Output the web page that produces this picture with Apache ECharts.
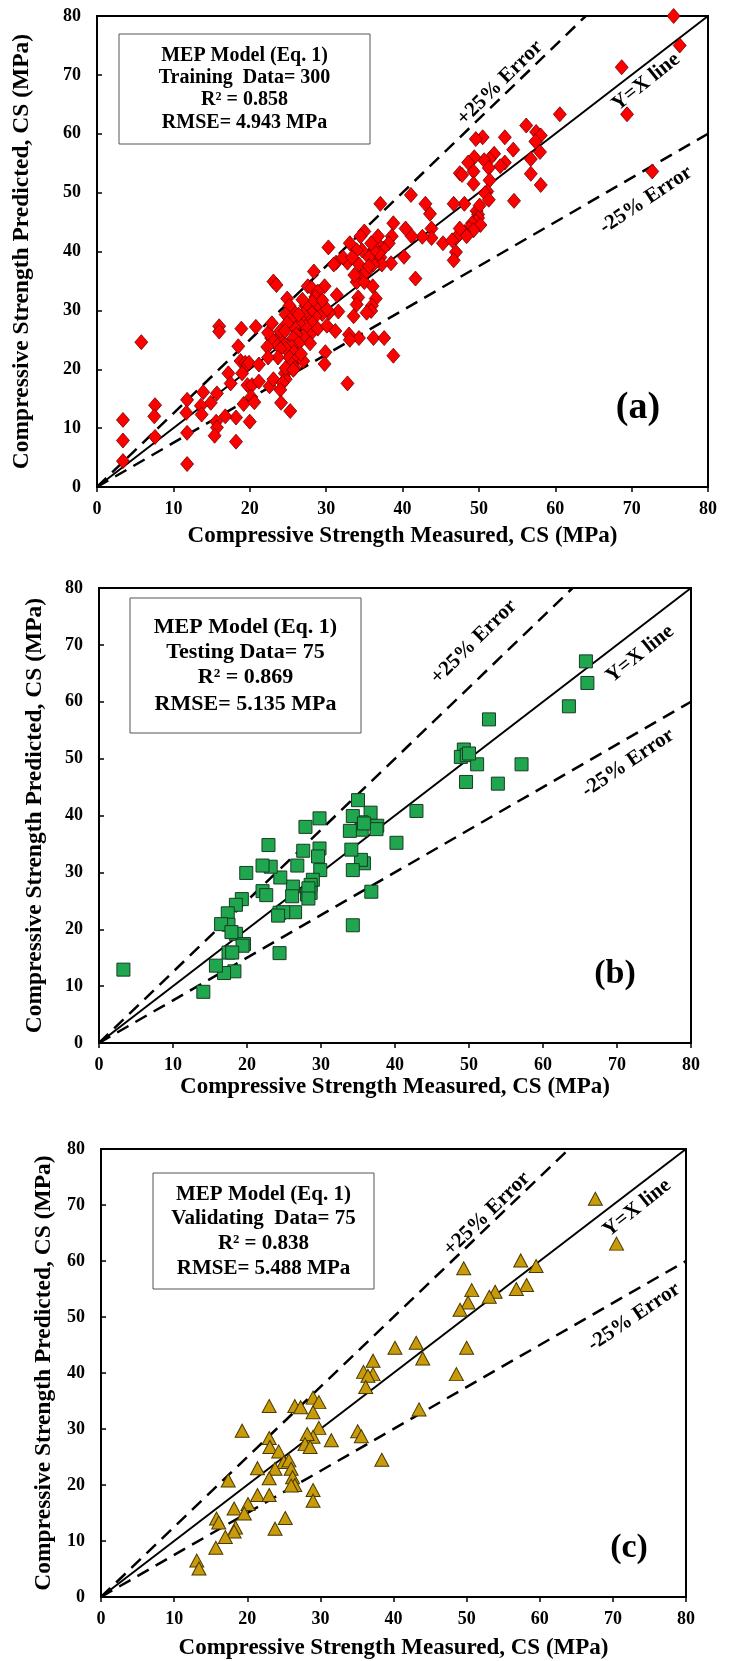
<!DOCTYPE html>
<html lang="en">
<head>
    <meta charset="UTF-8">
    <title>MEP Model CS</title>
    <script src="https://cdn.jsdelivr.net/npm/echarts@6/dist/echarts.min.js"></script>
    <style>
        html, body { margin: 0; padding: 0; background: #fff; }
    </style>
</head>
<body>
    <div style="height: 1661px;width: 731px" id="myChart"></div>
    <script type="text/javascript">
        // measured / predicted pairs
        var trainData = [
            [75.5,80.0],[76.3,75.0],[68.7,71.3],[69.4,63.3],[72.7,53.6],[60.6,63.3],[56.2,61.4],[57.5,60.3],
            [58.1,59.7],[57.4,58.7],[58.0,56.9],[58.1,51.3],[56.8,55.7],[56.8,53.2],[53.4,59.4],[54.5,57.3],
            [54.6,48.6],[53.4,55.1],[52.8,54.5],[52.0,56.6],[51.4,55.7],[50.7,55.5],[51.3,54.2],[51.4,52.1],
            [51.1,50.2],[50.8,49.9],[51.3,48.8],[50.5,59.4],[49.6,59.1],[49.4,56.0],[49.3,53.6],[49.3,51.5],
            [48.6,55.1],[47.5,53.3],[47.8,53.0],[48.1,48.1],[46.7,48.1],[49.7,46.9],[49.9,46.3],[50.1,47.8],
            [49.9,45.7],[49.6,45.1],[49.1,44.8],[50.2,44.5],[48.7,43.9],[49.3,43.6],[48.1,43.3],[47.5,43.0],
            [48.4,42.6],[47.0,42.3],[47.5,43.9],[47.0,39.9],[46.7,38.5],[45.3,41.4],[43.6,46.4],[43.0,48.1],
            [43.8,43.9],[43.8,42.3],[42.6,42.5],[41.1,49.6],[41.2,42.6],[40.4,43.9],[40.2,39.1],[41.7,35.4],
            [38.8,44.8],[38.6,42.6],[38.2,41.4],[38.5,38.0],[37.1,48.1],[37.5,40.5],[37.1,39.0],[36.7,41.4],
            [37.3,37.8],[36.9,39.7],[36.2,40.2],[36.2,37.8],[35.9,41.4],[35.6,39.0],[35.0,43.4],[34.5,42.6],
            [34.7,40.2],[34.0,40.2],[34.3,37.8],[34.5,35.7],[34.0,34.8],[35.0,34.8],[33.1,41.4],[32.8,38.1],
            [31.3,38.1],[31.0,37.8],[32.2,39.0],[30.3,40.7],[36.1,34.1],[36.5,32.0],[36.0,30.8],[35.9,29.9],
            [35.3,29.6],[34.2,32.2],[34.0,31.0],[33.6,29.0],[36.2,25.3],[37.6,25.3],[34.3,25.3],[33.0,25.9],
            [33.1,25.0],[38.8,22.3],[32.8,17.6],[31.2,26.5],[31.4,32.6],[31.6,29.8],[30.4,29.6],[29.8,34.1],
            [29.9,22.9],[29.8,20.9],[28.4,36.6],[27.6,34.1],[28.1,33.8],[28.9,33.2],[28.6,32.3],[28.2,31.4],
            [29.2,30.5],[29.5,29.4],[28.6,29.0],[27.9,29.9],[27.3,30.8],[27.6,28.4],[27.0,29.3],[26.7,28.4],
            [28.2,27.8],[28.9,26.9],[27.9,25.9],[27.9,24.4],[27.3,27.2],[27.0,25.6],[26.4,27.8],[25.8,27.2],
            [26.9,31.8],[25.5,30.2],[24.9,32.0],[25.2,30.8],[24.7,29.3],[25.3,28.4],[24.9,27.8],[26.1,25.9],
            [25.7,25.3],[26.4,24.4],[25.5,23.8],[24.3,24.7],[24.7,23.5],[25.8,22.9],[25.2,22.0],[26.1,21.7],
            [25.5,20.8],[25.9,20.2],[27.0,21.4],[23.9,25.6],[23.4,24.4],[24.0,23.5],[23.7,22.0],[23.2,24.7],
            [22.8,25.3],[22.4,26.2],[22.9,27.8],[22.3,23.8],[22.4,22.0],[23.1,34.9],[23.5,34.3],[20.8,27.2],
            [18.9,26.9],[18.5,23.9],[18.8,21.4],[19.4,21.1],[19.7,20.8],[19.0,19.3],[19.7,17.3],[19.2,14.1],
            [19.9,21.1],[21.2,20.8],[20.3,17.3],[21.2,17.9],[22.6,17.1],[23.1,18.3],[24.6,19.3],[24.7,18.3],
            [24.3,17.7],[24.0,16.5],[24.1,14.3],[25.3,12.9],[20.2,15.3],[20.6,14.4],[20.0,11.1],[18.2,11.8],
            [18.2,7.7],[17.2,19.3],[17.5,17.6],[16.8,12.0],[15.7,15.9],[15.6,11.1],[15.7,10.1],[15.4,8.7],
            [16.0,27.3],[16.0,26.4],[14.9,14.3],[13.9,16.1],[13.6,13.8],[13.7,12.3],[11.8,14.8],[11.7,12.6],
            [11.8,9.2],[11.8,3.9],[7.6,13.9],[7.5,12.0],[7.6,8.5],[3.4,11.4],[3.4,7.9],[3.4,4.4],
            [5.8,24.6],[46.5,41.9],[24.0,26.5],[24.6,26.5],[26.4,29.3],[30.1,27.4],[26.7,22.6],[24.7,20.2],
            [25.7,19.9],[30.1,30.2],[29.5,31.7],[33.7,36.0],[35.3,36.6],[35.6,37.5],[33.4,39.0],[36.8,42.6]
        ];
        var testData = [
            [65.8,67.1],[66.0,63.3],[63.5,59.2],[52.7,56.9],[49.3,51.6],[48.9,50.3],[49.7,50.6],[51.1,49.0],
            [57.1,49.0],[49.6,45.9],[53.9,45.6],[42.9,40.8],[40.2,35.2],[37.6,38.2],[37.5,37.6],[36.7,40.5],
            [35.8,31.6],[35.5,38.8],[35.5,37.5],[35.4,32.2],[35.0,42.7],[34.3,39.9],[33.9,37.3],[34.1,34.0],
            [34.3,30.4],[34.3,20.7],[36.8,26.6],[29.8,39.5],[29.8,34.2],[29.6,32.8],[29.9,30.4],[28.9,28.7],
            [28.6,27.8],[28.6,26.4],[28.1,26.1],[28.3,27.2],[27.9,38.0],[27.6,33.8],[26.8,31.2],[26.2,27.5],
            [26.1,25.8],[26.5,23.0],[24.5,29.1],[24.4,22.9],[24.9,23.0],[24.4,15.8],[22.9,34.8],[23.2,31.0],
            [22.1,31.2],[22.1,26.7],[22.6,26.0],[19.9,29.9],[19.3,25.3],[18.5,24.3],[18.5,19.2],[19.6,17.4],
            [19.4,17.1],[17.4,22.8],[17.5,20.8],[16.5,20.9],[17.5,15.9],[18.0,15.9],[18.3,12.6],[16.9,12.3],
            [15.8,13.6],[14.1,9.0],[3.3,12.9],[24.2,22.4],[35.8,38.6],[50.0,50.9],[28.3,25.4],[17.9,19.5]
        ];
        var validData = [
            [67.6,71.1],[70.5,63.1],[57.4,60.1],[59.5,59.1],[49.6,58.7],[58.2,55.7],[56.8,55.0],[53.9,54.5],
            [53.1,53.6],[50.7,54.8],[50.2,52.6],[49.1,51.3],[50.0,44.5],[43.1,45.4],[40.2,44.5],[44.0,42.6],
            [37.2,42.2],[35.9,40.2],[37.2,39.8],[36.5,39.5],[48.6,39.8],[36.2,37.5],[43.5,33.5],[29.0,35.6],
            [29.8,34.8],[26.5,34.1],[27.3,33.9],[23.0,34.1],[29.0,33.0],[29.8,30.2],[19.3,29.7],[35.1,29.6],
            [35.6,28.7],[31.5,28.0],[29.0,28.6],[28.2,29.1],[23.0,28.4],[23.1,26.8],[27.9,27.3],[28.6,26.8],
            [24.3,26.0],[38.4,24.5],[25.0,24.1],[25.7,24.4],[23.8,22.9],[26.0,22.9],[21.4,23.0],[23.0,21.2],
            [26.2,21.4],[26.5,20.0],[26.0,19.9],[17.4,20.8],[29.0,19.1],[29.0,17.2],[21.4,18.2],[23.0,18.2],
            [20.1,16.6],[18.2,15.8],[19.6,14.9],[15.8,14.0],[16.1,13.3],[25.2,14.1],[18.4,12.4],[18.2,11.7],
            [23.8,12.2],[17.0,10.7],[15.7,8.8],[13.1,6.5],[13.4,5.1]
        ];
        var lineYX = [[0, 0], [80, 80]];
        var linePlus25 = [[0, 0], [64, 80]];
        var lineMinus25 = [[0, 0], [80, 60]];
        var axisTicks = [0, 10, 20, 30, 40, 50, 60, 70, 80];

        var SERIF = '"Liberation Serif", "Times New Roman", serif';

        var grids = [
            {left: 97, top: 16, width: 611, height: 471},
            {left: 99, top: 588, width: 592, height: 455},
            {left: 101, top: 1149, width: 585, height: 451}
        ];
        var xNameGap = [38, 33, 40];
        var yNameGap = [63, 52, 45];

        function makeX(i) {
            return {
                gridIndex: i, type: 'value', min: axisTicks[0], max: axisTicks[axisTicks.length - 1], interval: 10,
                axisLine: {show: true, onZero: false, lineStyle: {color: '#000', width: 2}},
                axisTick: {show: true, inside: false, length: 5, lineStyle: {color: '#000', width: 1.5}},
                splitLine: {show: false},
                axisLabel: {color: '#000', fontFamily: SERIF, fontWeight: 'bold', fontSize: 18, margin: 13},
                name: 'Compressive Strength Measured, CS (MPa)',
                nameLocation: 'middle', nameGap: xNameGap[i],
                nameTextStyle: {color: '#000', fontFamily: SERIF, fontWeight: 'bold', fontSize: 23}
            };
        }
        function makeY(i) {
            return {
                gridIndex: i, type: 'value', min: axisTicks[0], max: axisTicks[axisTicks.length - 1], interval: 10,
                axisLine: {show: true, onZero: false, lineStyle: {color: '#000', width: 2}},
                axisTick: {show: true, inside: true, length: 5, lineStyle: {color: '#000', width: 1.5}},
                splitLine: {show: false},
                axisLabel: {color: '#000', fontFamily: SERIF, fontWeight: 'bold', fontSize: 18, margin: 16},
                name: 'Compressive Strength Predicted, CS (MPa)',
                nameLocation: 'middle', nameGap: yNameGap[i],
                nameTextStyle: {color: '#000', fontFamily: SERIF, fontWeight: 'bold', fontSize: 23.5}
            };
        }
        function refLines(i) {
            return [
                {type: 'line', xAxisIndex: i, yAxisIndex: i, data: lineYX, symbol: 'none', silent: true,
                    lineStyle: {color: '#000', width: 2}, z: 3},
                {type: 'line', xAxisIndex: i, yAxisIndex: i, data: linePlus25, symbol: 'none', silent: true,
                    lineStyle: {color: '#000', width: 2.5, type: [13, 8]}, z: 3},
                {type: 'line', xAxisIndex: i, yAxisIndex: i, data: lineMinus25, symbol: 'none', silent: true,
                    lineStyle: {color: '#000', width: 2.5, type: [13, 8]}, z: 3}
            ];
        }

        var series = [];
        series = series.concat(refLines(0), refLines(1), refLines(2));
        series.push({type: 'scatter', xAxisIndex: 0, yAxisIndex: 0, data: trainData, symbol: 'diamond',
            symbolSize: [13, 15], itemStyle: {color: '#ff0000', borderColor: '#6b0000', borderWidth: 0.8, opacity: 1}, z: 4});
        series.push({type: 'scatter', xAxisIndex: 1, yAxisIndex: 1, data: testData, symbol: 'rect',
            symbolSize: 13, itemStyle: {color: '#1fa64f', borderColor: '#173d22', borderWidth: 1, opacity: 1}, z: 4});
        series.push({type: 'scatter', xAxisIndex: 2, yAxisIndex: 2, data: validData, symbol: 'triangle',
            symbolSize: [14, 13], itemStyle: {color: '#c99b0a', borderColor: '#4a3a00', borderWidth: 1, opacity: 1}, z: 4});

        // text boxes and labels
        function boxText(cx, ys, lines, size) {
            var out = [];
            for (var k = 0; k < lines.length; k++) {
                out.push({type: 'text', x: cx, y: ys[k], z: 10,
                    style: {text: lines[k], font: 'bold ' + size + 'px ' + SERIF, fill: '#000',
                        textAlign: 'center', textVerticalAlign: 'middle'}});
            }
            return out;
        }
        function rotText(x, y, deg, txt, size) {
            return {type: 'text', x: x, y: y, rotation: deg * Math.PI / 180, z: 10,
                style: {text: txt, font: 'bold ' + size + 'px ' + SERIF, fill: '#000',
                    textAlign: 'center', textVerticalAlign: 'middle'}};
        }
        var graphic = [
            {type: 'rect', shape: {x: 119, y: 34, width: 251, height: 110}, z: 9,
                style: {fill: '#fff', stroke: '#555', lineWidth: 1}},
            {type: 'rect', shape: {x: 130, y: 598, width: 231, height: 135}, z: 9,
                style: {fill: '#fff', stroke: '#555', lineWidth: 1}},
            {type: 'rect', shape: {x: 153, y: 1173, width: 221, height: 116}, z: 9,
                style: {fill: '#fff', stroke: '#555', lineWidth: 1}}
        ];
        graphic = graphic.concat(
            boxText(244.5, [56, 78, 100, 123], ['MEP Model (Eq. 1)', 'Training  Data= 300', 'R\u00b2 = 0.858', 'RMSE= 4.943 MPa'], 20),
            boxText(245.5, [627, 652, 677, 704], ['MEP Model (Eq. 1)', 'Testing Data= 75', 'R\u00b2 = 0.869', 'RMSE= 5.135 MPa'], 22),
            boxText(263.5, [1195, 1219, 1244, 1269], ['MEP Model (Eq. 1)', 'Validating  Data= 75', 'R\u00b2 = 0.838', 'RMSE= 5.488 MPa'], 21)
        );
        graphic.push(
            rotText(500, 83, 44.7, '+25% Error', 21), rotText(646, 82, 38.5, 'Y=X line', 21), rotText(646, 200, 33.5, '-25% Error', 21),
            rotText(474, 642, 44.5, '+25% Error', 21), rotText(640, 654, 38.5, 'Y=X line', 21), rotText(628, 763, 34, '-25% Error', 21),
            rotText(487, 1214, 44, '+25% Error', 21), rotText(637, 1208, 38.5, 'Y=X line', 21), rotText(634, 1317, 34, '-25% Error', 21),
            rotText(638, 408, 0, '(a)', 38), rotText(615, 974, 0, '(b)', 34), rotText(629, 1548, 0, '(c)', 34)
        );

        var myChart = echarts.init(document.getElementById('myChart'));
        var option = {
            backgroundColor: '#fff',
            animation: false,
            grid: grids.map(function (g) {
                return {left: g.left, top: g.top, width: g.width, height: g.height, show: true,
                    borderColor: '#000', borderWidth: 2, backgroundColor: 'transparent'};
            }),
            xAxis: [makeX(0), makeX(1), makeX(2)],
            yAxis: [makeY(0), makeY(1), makeY(2)],
            series: series,
            graphic: graphic
        };
        myChart.setOption(option);
    </script>
</body>
</html>
